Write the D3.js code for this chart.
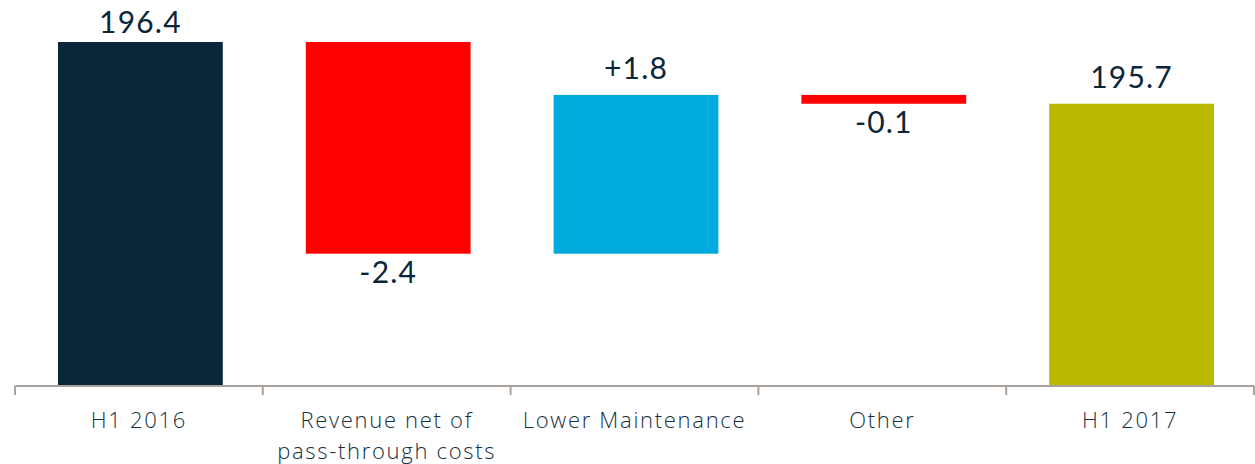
<!DOCTYPE html>
<html><head><meta charset="utf-8">
<script src="https://cdn.jsdelivr.net/npm/d3@7"></script>
<style>
html,body{margin:0;padding:0;background:#fff;}
svg{display:block;}
</style></head>
<body><svg id="c" width="1255" height="464"></svg>
<script>
const categories = ["H1 2016", "Revenue net of|pass-through costs", "Lower Maintenance", "Other", "H1 2017"];
const values = [196.4, -2.4, 1.8, -0.1, 195.7];
const kinds = ["total", "delta", "delta", "delta", "total"];
const valueLabels = ["196.4", "-2.4", "+1.8", "-0.1", "195.7"];
const axisFloor = 192.5;

const colors = {total0: "#0b2539", neg: "#ff0000", pos: "#00aadf", total1: "#bbb800"};
const W = 1255, H = 464;
const m = {left: 15, right: 1, top: 42, bottom: 78};

let run = 0;
const bars = categories.map((c, i) => {
  let y0, y1, col;
  if (kinds[i] === "total") {
    y0 = axisFloor; y1 = values[i]; run = values[i];
    col = i === 0 ? colors.total0 : colors.total1;
  } else {
    y0 = run; y1 = run + values[i]; run = y1;
    col = values[i] < 0 ? colors.neg : colors.pos;
  }
  return {c, i, lo: Math.min(y0, y1), hi: Math.max(y0, y1), v: values[i], col, kind: kinds[i]};
});

const svg = d3.select("#c");
const x = d3.scaleBand().domain(categories).range([m.left, W - m.right]).paddingInner(0.335).paddingOuter(0.1675);
const xAxisBand = d3.scaleBand().domain(categories).range([m.left, W - m.right]);
const y = d3.scaleLinear().domain([axisFloor, d3.max(values)]).range([H - m.bottom, m.top]);

svg.selectAll("rect.bar").data(bars).join("rect")
  .attr("class", "bar")
  .attr("x", d => x(d.c) + 1.5)
  .attr("width", x.bandwidth())
  .attr("y", d => y(d.hi))
  .attr("height", d => y(d.lo) - y(d.hi))
  .attr("fill", d => d.col);

// axis
const base = H - m.bottom;
const g = svg.append("g");
g.append("line").attr("x1", m.left).attr("x2", W - m.right).attr("y1", base).attr("y2", base)
  .attr("stroke", "#a9a29d").attr("stroke-width", 2);
const tickXs = categories.map(c => xAxisBand(c)).concat([W - m.right]);
g.selectAll("line.tick").data(tickXs).join("line").attr("class", "tick")
  .attr("x1", d => d).attr("x2", d => d).attr("y1", base).attr("y2", base + 9)
  .attr("stroke", "#a9a29d").attr("stroke-width", 2);

// category labels
const lab = svg.selectAll("text.cat").data(categories).join("text")
  .attr("class", "cat")
  .attr("x", d => xAxisBand(d) + xAxisBand.bandwidth() / 2)
  .attr("y", base + 42)
  .attr("text-anchor", "middle")
  .attr("font-family", "'Open Sans', Lato, sans-serif")
  .attr("font-size", 22)
  .attr("font-weight", 300)
  .attr("letter-spacing", 1.7)
  .attr("fill", "#15303f");
lab.each(function(d) {
  const parts = d.split("|");
  const t = d3.select(this);
  parts.forEach((p, k) => {
    t.append("tspan").attr("x", xAxisBand(d) + xAxisBand.bandwidth() / 2).attr("dy", k === 0 ? 0 : 31).text(p);
  });
});

// value labels
svg.selectAll("text.val").data(bars).join("text")
  .attr("class", "val")
  .attr("x", d => x(d.c) + 1.5 + x.bandwidth() / 2)
  .attr("y", d => {
    if (d.v < 0 && d.kind === "delta") return y(d.lo) + 29;
    return Math.max(y(d.hi) - 16, 33);
  })
  .attr("text-anchor", "middle")
  .attr("font-family", "Lato, 'Open Sans', sans-serif")
  .attr("font-size", 30)
  .attr("letter-spacing", 1.2)
  .attr("fill", "#0b2539")
  .text((d, i) => valueLabels[i]);
</script></body></html>
